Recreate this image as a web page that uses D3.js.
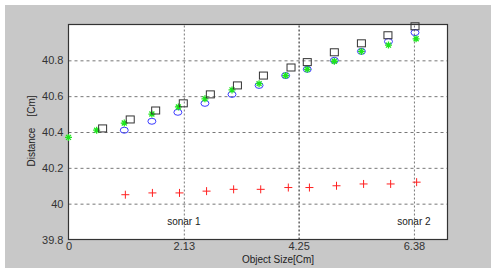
<!DOCTYPE html>
<html>
<head>
<meta charset="utf-8">
<script src="https://cdn.jsdelivr.net/npm/d3@7"></script>
<style>
  body { margin: 0; background: #fff; }
  text { font-family: "Liberation Sans", Arial, sans-serif; }
</style>
</head>
<body>
<div id="chart"></div>
<script>
// data
var xTicks = [0, 2.13, 4.25, 6.38];
var yTicks = [39.8, 40, 40.2, 40.4, 40.6, 40.8];

var redX = [1.05, 1.55, 2.05, 2.55, 3.05, 3.55, 4.06, 4.45, 4.95, 5.45, 5.95, 6.43];
var redY = [40.05, 40.06, 40.06, 40.07, 40.08, 40.08, 40.09, 40.09, 40.10, 40.11, 40.11, 40.12];

var greenX = [0, 0.52, 1.03, 1.54, 2.03, 2.52, 3.02, 3.52, 4.01, 4.41, 4.91, 5.41, 5.91, 6.42];
var greenY = [40.37, 40.41, 40.45, 40.50, 40.54, 40.585, 40.635, 40.67, 40.715, 40.75, 40.795, 40.85, 40.885, 40.92];

var blueX = [1.03, 1.54, 2.02, 2.52, 3.02, 3.52, 4.01, 4.41, 4.91, 5.41, 5.91, 6.40];
var blueY = [40.41, 40.46, 40.51, 40.56, 40.61, 40.66, 40.715, 40.75, 40.80, 40.85, 40.905, 40.955];

var squareX = [0.63, 1.14, 1.61, 2.12, 2.62, 3.12, 3.60, 4.11, 4.41, 4.91, 5.41, 5.90, 6.40];
var squareY = [40.42, 40.47, 40.52, 40.56, 40.61, 40.66, 40.715, 40.76, 40.79, 40.845, 40.895, 40.94, 40.99];

var labels = [{x: 2.13, y: 39.88, t: "sonar 1"}, {x: 6.38, y: 39.88, t: "sonar 2"}];

// layout
var svgWidth = 491, svgHeight = 268;
var margin = {top: 24.5, left: 68.5, right: 43.5, bottom: 28.5};
var chartWidth = svgWidth - margin.left - margin.right;
var chartHeight = svgHeight - margin.top - margin.bottom;

var svg = d3.select("#chart").append("svg")
  .attr("width", svgWidth)
  .attr("height", svgHeight);

// grey figure background with thin white strip top/left
svg.append("rect")
  .attr("x", 5).attr("y", 5)
  .attr("width", svgWidth - 5).attr("height", svgHeight - 5)
  .attr("fill", "#c8c8c8");

var chartGroup = svg.append("g")
  .attr("transform", `translate(${margin.left}, ${margin.top})`);

chartGroup.append("rect")
  .attr("width", chartWidth).attr("height", chartHeight)
  .attr("fill", "#fff");

var xScale = d3.scaleLinear().domain([0, 7]).range([0, chartWidth]);
var yScale = d3.scaleLinear().domain([39.8, 41.0]).range([chartHeight, 0]);

// horizontal grid
chartGroup.append("g")
  .call(d3.axisLeft(yScale).tickValues(yTicks.slice(1)).tickSize(-chartWidth).tickFormat(""))
  .call(g => g.select(".domain").remove())
  .selectAll("line")
  .attr("stroke", "#777")
  .attr("stroke-dasharray", "3,3");

// vertical grid
chartGroup.append("g")
  .attr("transform", `translate(0, ${chartHeight})`)
  .call(d3.axisBottom(xScale).tickValues(xTicks.slice(1)).tickSize(-chartHeight).tickFormat(""))
  .call(g => g.select(".domain").remove())
  .selectAll("line")
  .attr("stroke", (d, i) => i == 1 ? "#111" : "#777")
  .attr("stroke-dasharray", "2,2");

// tick labels
var xAxis = chartGroup.append("g")
  .attr("transform", `translate(0, ${chartHeight})`)
  .call(d3.axisBottom(xScale).tickValues(xTicks).tickSize(0).tickPadding(3).tickFormat(d3.format("")));
xAxis.select(".domain").remove();
xAxis.selectAll("text").attr("font-size", 11).attr("fill", "#333").style("font-family", "Liberation Sans");

var yAxis = chartGroup.append("g")
  .call(d3.axisLeft(yScale).tickValues(yTicks).tickSize(0).tickPadding(5).tickFormat(d3.format("")));
yAxis.select(".domain").remove();
yAxis.selectAll("text").attr("font-size", 11).attr("fill", "#333").style("font-family", "Liberation Sans");

// frame
chartGroup.append("rect")
  .attr("width", chartWidth).attr("height", chartHeight)
  .attr("fill", "none").attr("stroke", "#333").attr("stroke-width", 1.2);

// blue circles
chartGroup.selectAll(".blue")
  .data(d3.zip(blueX, blueY))
  .enter().append("ellipse")
  .attr("cx", d => xScale(d[0]))
  .attr("cy", d => yScale(d[1]))
  .attr("rx", 4).attr("ry", 3)
  .attr("fill", "none").attr("stroke", "#3a3aff");

// green stars
var star = "M-3.5,0H3.5M0,-3.5V3.5M-2.5,-2.5L2.5,2.5M-2.5,2.5L2.5,-2.5";
chartGroup.selectAll(".green")
  .data(d3.zip(greenX, greenY))
  .enter().append("path")
  .attr("transform", d => `translate(${xScale(d[0])},${yScale(d[1])})`)
  .attr("d", star)
  .attr("stroke", "#1ee61e").attr("stroke-width", 1.3);

// black squares
chartGroup.selectAll(".sq")
  .data(d3.zip(squareX, squareY))
  .enter().append("rect")
  .attr("x", d => xScale(d[0]) - 4)
  .attr("y", d => yScale(d[1]) - 3.5)
  .attr("width", 8).attr("height", 7)
  .attr("fill", "none").attr("stroke", "#333");

// red pluses
chartGroup.selectAll(".red")
  .data(d3.zip(redX, redY))
  .enter().append("path")
  .attr("transform", d => `translate(${xScale(d[0])},${yScale(d[1])})`)
  .attr("d", "M-4,0H4M0,-4V4")
  .attr("stroke", "#ff2020").attr("stroke-width", 1);

// sonar labels
chartGroup.selectAll(".lab")
  .data(labels)
  .enter().append("text")
  .attr("x", d => xScale(d.x))
  .attr("y", d => yScale(d.y))
  .attr("text-anchor", "middle")
  .attr("font-size", 10)
  .attr("fill", "#222")
  .text(d => d.t);

// axis titles
svg.append("text")
  .attr("x", 278).attr("y", 263)
  .attr("text-anchor", "middle")
  .attr("font-size", 10).attr("fill", "#222")
  .text("Object Size[Cm]");

svg.append("text")
  .attr("transform", "translate(35, 131) rotate(-90)")
  .attr("text-anchor", "middle")
  .attr("font-size", 10).attr("fill", "#222")
  .attr("xml:space", "preserve")
  .text("Distance    [Cm]");
</script>
</body>
</html>
